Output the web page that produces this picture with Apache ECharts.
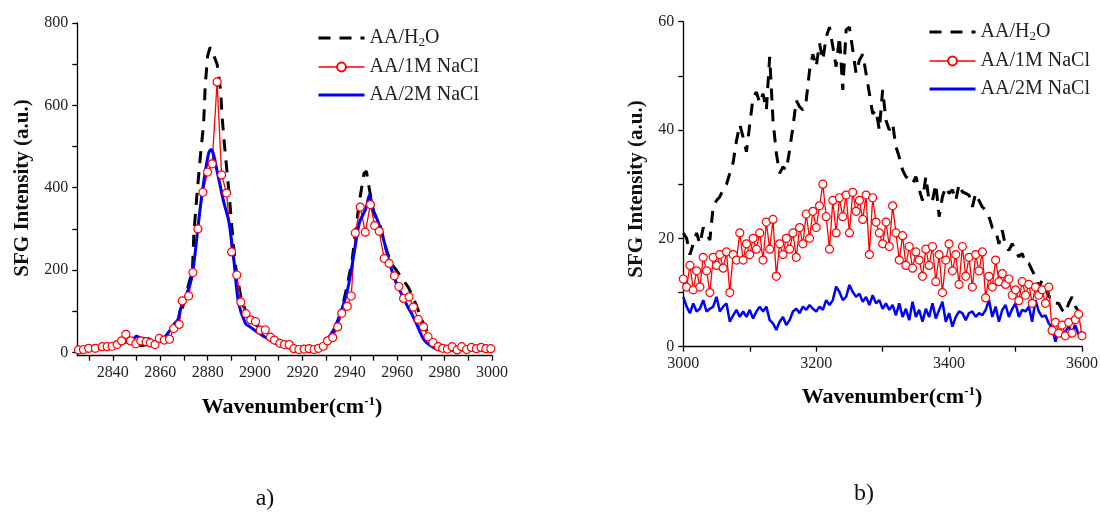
<!DOCTYPE html>
<html><head><meta charset="utf-8">
<script src="https://cdn.jsdelivr.net/npm/echarts@6/dist/echarts.min.js"></script>
<style>html,body{margin:0;padding:0;background:#fff}#c{width:1101px;height:513px}</style>
</head><body><div id="c"></div>
<script>
const FONT = '"Liberation Serif", "DejaVu Serif", serif';

// ---------- Panel a) data ----------
const seriesNames = ['AA/H2O', 'AA/1M NaCl', 'AA/2M NaCl'];
const xTicksA = [2840, 2860, 2880, 2900, 2920, 2940, 2960, 2980, 3000];
const xMinorA = [2830, 2850, 2870, 2890, 2910, 2930, 2950, 2970, 2990];
const yTicksA = [0, 200, 400, 600, 800];
const yMinorA = [100, 300, 500, 700];

const redXA = [2825.5, 2827.6, 2829.8, 2832.6, 2835.5, 2837.6, 2839.7, 2841.8, 2843.7, 2845.5, 2847.5, 2849.7, 2851.8, 2854, 2855.8, 2857.8, 2859.6, 2861.7, 2863.9, 2865.7, 2868, 2869.3, 2872, 2873.8, 2875.9, 2878, 2880, 2881.9, 2884, 2885.9, 2888, 2890.1, 2892.3, 2894, 2896.2, 2898.2, 2900.2, 2902.2, 2904.3, 2906.5, 2908.2, 2910.5, 2912.4, 2914.4, 2916.4, 2918.5, 2920.7, 2922.8, 2924.9, 2926.8, 2928.8, 2930.6, 2932.8, 2934.9, 2936.6, 2938.9, 2940.6, 2942.3, 2944.4, 2946.5, 2948.7, 2950.5, 2952.4, 2954.5, 2956.6, 2958.8, 2960.7, 2962.7, 2965, 2966.8, 2968.9, 2971.1, 2973, 2975.1, 2977.3, 2979.2, 2981.2, 2983.2, 2985.3, 2987.2, 2989.3, 2991.3, 2993.4, 2995.4, 2997.4, 2999.5];
const redYA = [6, 7, 10, 10, 14, 14, 15, 19, 28, 44, 28, 21, 28, 26, 23, 19, 34, 30, 32, 58, 68, 125, 137, 194, 300, 389, 438, 458, 657, 431, 387, 244, 188, 122, 94, 79, 75, 54, 55, 37, 30, 22, 19, 19, 9, 7, 8, 9, 7, 10, 15, 28, 36, 62, 95, 112, 137, 290, 353, 292, 359, 308, 294, 228, 216, 186, 160, 131, 135, 110, 80, 62, 38, 24, 14, 10, 8, 14, 6, 14, 7, 12, 9, 12, 9, 9];

const blackXA = [2825, 2830, 2835, 2840, 2843, 2846, 2849, 2852, 2855, 2858, 2861, 2864, 2866, 2868, 2870, 2872, 2873.6, 2874.2, 2875.6, 2877, 2878.3, 2879, 2880, 2881, 2882, 2883, 2884, 2885.5, 2886, 2887, 2888, 2889, 2890, 2891, 2892, 2894, 2896, 2898, 2900, 2903, 2906, 2909, 2912, 2915, 2918, 2921, 2924, 2927, 2930, 2933, 2936, 2939, 2941, 2943, 2944, 2946, 2947, 2948, 2950, 2953, 2955.4, 2957.5, 2959.6, 2962, 2964.7, 2967, 2969, 2971, 2973, 2975, 2978, 2982, 2988, 2994, 3000];
const blackYA = [8, 10, 12, 15, 20, 26, 22, 16, 20, 22, 30, 42, 58, 85, 120, 165, 200, 290, 390, 480, 555, 650, 720, 740, 735, 715, 700, 635, 580, 510, 450, 390, 320, 255, 200, 135, 100, 80, 68, 55, 42, 28, 18, 12, 8, 7, 9, 14, 25, 48, 90, 165, 225, 320, 365, 435, 440, 405, 340, 304, 250, 215, 200, 180, 158, 130, 100, 70, 46, 25, 14, 12, 12, 13, 15];

const blueXA = [2825, 2830, 2833, 2836, 2840, 2843, 2845, 2847.3, 2849, 2850, 2852, 2855, 2858, 2860, 2862, 2864.3, 2866, 2867.5, 2868.5, 2870, 2871.4, 2873.5, 2875.7, 2877, 2879, 2880.5, 2881.5, 2882.5, 2884, 2885.5, 2886.8, 2889, 2891, 2893, 2896, 2898, 2901, 2904, 2908, 2911, 2915, 2919, 2922, 2925, 2929, 2933, 2936, 2939, 2942, 2944, 2946, 2947, 2948.3, 2950, 2952, 2954, 2956.8, 2959.6, 2962.5, 2964.5, 2966, 2968, 2971.5, 2975.8, 2979, 2983, 2990, 2995, 3000];
const blueYA = [10, 10, 10, 13, 18, 22, 26, 29, 35, 39, 34, 33, 25, 29, 38, 55, 70, 80, 105, 125, 146, 187, 292, 357, 438, 485, 493, 480, 440, 399, 365, 316, 228, 122, 70, 62, 49, 38, 24, 17, 10, 5, 5, 7, 22, 53, 95, 151, 248, 314, 340, 353, 382, 345, 316, 280, 216, 168, 134, 110, 95, 71, 29, 10, 5, 5, 7, 5, 5];

// ---------- Panel b) data ----------
const wavenumberB = [3000, 3005, 3010, 3015, 3020, 3025, 3030, 3035, 3040, 3045, 3050, 3055, 3060, 3065, 3070, 3075, 3080, 3085, 3090, 3095, 3100, 3105, 3110, 3115, 3120, 3125, 3130, 3135, 3140, 3145, 3150, 3155, 3160, 3165, 3170, 3175, 3180, 3185, 3190, 3195, 3200, 3205, 3210, 3215, 3220, 3225, 3230, 3235, 3240, 3245, 3250, 3255, 3260, 3265, 3270, 3275, 3280, 3285, 3290, 3295, 3300, 3305, 3310, 3315, 3320, 3325, 3330, 3335, 3340, 3345, 3350, 3355, 3360, 3365, 3370, 3375, 3380, 3385, 3390, 3395, 3400, 3405, 3410, 3415, 3420, 3425, 3430, 3435, 3440, 3445, 3450, 3455, 3460, 3465, 3470, 3475, 3480, 3485, 3490, 3495, 3500, 3505, 3510, 3515, 3520, 3525, 3530, 3535, 3540, 3545, 3550, 3555, 3560, 3565, 3570, 3575, 3580, 3585, 3590, 3595, 3600];
const blackB = [21, 20, 17, 19, 21, 19, 22, 21, 19.7, 26, 27, 27.7, 29, 30, 32, 34, 38, 41, 38.7, 36, 41, 46, 47, 45, 46.7, 43.7, 53.5, 41.8, 35.7, 32, 33.2, 32.6, 36.3, 40.6, 45.5, 44.3, 43.7, 45.5, 51, 54, 51.7, 56, 52.9, 57.2, 59, 55.4, 51.7, 57.2, 47.4, 58.5, 59, 54.8, 50.5, 52.9, 54, 50.5, 46.8, 43, 43.7, 40, 47.4, 41.8, 40, 41.2, 36.9, 35, 32.6, 31.4, 30.8, 30.1, 31.4, 29, 27, 31.4, 26.8, 27, 30, 24, 27.7, 29.5, 28.3, 29, 27, 30, 28.6, 28.3, 28, 25.8, 28.3, 27, 25.8, 25.2, 24, 22, 21.5, 19, 21.5, 18.5, 17.8, 19, 17.8, 16.6, 17.2, 15.4, 15.4, 14.1, 12.9, 11, 12.3, 11, 9.2, 9.2, 8, 8, 6.8, 6.2, 8, 9.2, 7.4, 6.5, 5.5];
const redB = [12.5, 11, 15, 10.5, 14, 11, 16.5, 14, 10, 16.5, 15, 17, 14.5, 17.5, 10, 17, 16, 21, 16, 19, 17, 20, 18, 21, 16, 23, 18, 23.5, 13, 19, 17, 20, 18, 21, 16.5, 22, 19, 24.5, 20, 25, 22, 26, 30, 24, 18, 27, 21, 27.5, 24, 28, 21, 28.5, 25, 27, 23.5, 28, 17, 27.5, 23, 21, 19, 23, 18.5, 26, 21, 16, 20.5, 15, 18.5, 14.5, 17.5, 16, 13, 18, 15, 18.5, 12, 17, 10, 16, 19, 14, 17, 11.5, 18.5, 13, 16.5, 11, 17, 14, 17.5, 9, 13, 11, 16, 12, 13.5, 11.5, 12.5, 9.5, 10.5, 8.5, 12, 9.5, 11.5, 8, 11, 9.5, 10.5, 8, 11, 3, 4.5, 2.5, 4, 2, 4.5, 2.5, 5, 6, 2];
const blueB = [9.2, 7.4, 6.2, 8, 6.5, 7, 8.6, 6.5, 7, 7.4, 9.2, 6.5, 7.4, 8, 4.6, 5.8, 6.8, 5.5, 6.5, 5.5, 6.8, 5.2, 6.5, 7.4, 6.5, 7.4, 4.9, 4.3, 3.1, 4.6, 5.5, 4, 4.9, 6.5, 7, 6.2, 7.4, 6.8, 7.7, 7, 6.5, 7.4, 6.8, 8.6, 7.7, 8.6, 11.1, 10.1, 8.6, 9.2, 11.4, 10.1, 9.2, 9.8, 8.3, 9.2, 7.7, 9.5, 8, 8.6, 7, 8, 6.8, 7.7, 5.8, 8, 5.5, 7, 4.9, 8.3, 5.5, 6.8, 4.6, 7, 5.5, 8, 5.2, 6.8, 8.3, 4.6, 6.2, 3.7, 5.5, 6.5, 6.2, 4.9, 6.2, 6.5, 5.5, 6.2, 5.8, 6.8, 8.6, 5.5, 7.4, 4.6, 6.8, 7.7, 5.5, 7, 8, 5.5, 6.8, 6.5, 7.4, 4.6, 8.6, 6.5, 5.5, 5.8, 4.3, 3.4, 0.9, 3.1, 1.8, 2.8, 3.7, 2.2, 4, 2.2, 2.8];

function pairs(xs, ys) { return xs.map(function (x, i) { return [x, ys[i]]; }); }
function plain(v) { return String(v); }

const AX = { color: '#000', width: 1.3 };
const LBL = { fontFamily: FONT, fontSize: 16, color: '#222', formatter: plain };

function mainAxis(extra) {
  return Object.assign({
    type: 'value',
    axisLine: { show: true, onZero: false, lineStyle: AX },
    axisTick: { show: true, inside: false, length: 5, lineStyle: AX },
    axisLabel: Object.assign({ show: true }, LBL),
    splitLine: { show: false },
    minorSplitLine: { show: false }
  }, extra);
}
function minorAxis(extra) {
  return Object.assign({
    type: 'value',
    axisLine: { show: false, onZero: false },
    axisTick: { show: true, inside: false, length: 5, lineStyle: AX },
    axisLabel: { show: false },
    splitLine: { show: false }
  }, extra);
}

const richLegend = {
  n: { fontFamily: FONT, fontSize: 20, color: '#222' },
  s: { fontFamily: FONT, fontSize: 13, color: '#222', padding: [9, 0, 0, 0] }
};
function legendFmt(name) {
  if (name === 'AA/H2O') return '{n|AA/H}{s|2}{n|O}';
  return '{n|' + name + '}';
}
function legendAt(left, top) {
  return {
    orient: 'vertical', left: left, top: top, padding: 0, itemWidth: 46, itemHeight: 11, itemGap: 8,
    data: [
      { name: seriesNames[0], itemStyle: { opacity: 0 }, lineStyle: { width: 3 } },
      { name: seriesNames[1], lineStyle: { width: 1.5 } },
      { name: seriesNames[2], itemStyle: { opacity: 0 }, lineStyle: { width: 3 } }
    ],
    formatter: legendFmt, selectedMode: false,
    textStyle: { fontFamily: FONT, fontSize: 20, color: '#222', rich: richLegend }
  };
}

const titleRich = {
  a: { fontFamily: FONT, fontSize: 22, fontWeight: 'bold', color: '#111' },
  b: { fontFamily: FONT, fontSize: 13, fontWeight: 'bold', color: '#111', padding: [0, 0, 10, 0] }
};
function xTitle(x, y) {
  return { type: 'text', x: x, y: y, style: { text: '{a|Wavenumber(cm}{b|-1}{a|)}', rich: titleRich, align: 'center', verticalAlign: 'middle' } };
}
function yTitle(x, y) {
  return { type: 'text', x: x, y: y, rotation: Math.PI / 2, style: { text: 'SFG Intensity (a.u.)', fontFamily: FONT, fontSize: 21, fontWeight: 'bold', fill: '#111', align: 'center', verticalAlign: 'middle' } };
}

const redStyle = {
  type: 'line', symbol: 'circle', showSymbol: true, showAllSymbol: true,
  lineStyle: { color: '#ff0000', width: 1.3 },
  itemStyle: { color: '#ffffff', borderColor: '#ff0000', borderWidth: 1.2 },
  emphasis: { disabled: true }
};

const option = {
  animation: false,
  backgroundColor: '#ffffff',
  grid: [
    { left: 77.3, top: 23, width: 414.7, height: 332.7 },
    { left: 683.3, top: 21.7, width: 400.7, height: 325 }
  ],
  xAxis: [
    mainAxis({ gridIndex: 0, position: 'bottom', min: 2825, max: 3000,
      axisTick: { show: true, length: 5, lineStyle: AX, customValues: xTicksA },
      axisLabel: Object.assign({ customValues: xTicksA, margin: 9 }, LBL) }),
    minorAxis({ gridIndex: 0, position: 'bottom', min: 2825, max: 3000,
      axisTick: { show: true, length: 5, lineStyle: AX, customValues: xMinorA } }),
    mainAxis({ gridIndex: 1, position: 'bottom', min: 3000, max: 3600, interval: 200,
      axisLabel: Object.assign({ margin: 9 }, LBL),
      minorTick: { show: true, splitNumber: 2, length: 5, lineStyle: AX } })
  ],
  yAxis: [
    mainAxis({ gridIndex: 0, position: 'left', min: -8, max: 800,
      axisTick: { show: true, length: 5, lineStyle: AX, customValues: yTicksA },
      axisLabel: Object.assign({ customValues: yTicksA, margin: 9 }, LBL) }),
    minorAxis({ gridIndex: 0, position: 'left', min: -8, max: 800,
      axisTick: { show: true, length: 5, lineStyle: AX, customValues: yMinorA } }),
    mainAxis({ gridIndex: 1, position: 'left', min: 0, max: 60, interval: 20,
      axisLabel: Object.assign({ margin: 9 }, LBL),
      minorTick: { show: true, splitNumber: 2, length: 5, lineStyle: AX } })
  ],
  legend: [legendAt(317, 28), legendAt(928, 22)],
  series: [
    { name: seriesNames[0], type: 'line', xAxisIndex: 0, yAxisIndex: 0, data: pairs(blackXA, blackYA), symbol: 'none',
      lineStyle: { color: '#000', width: 3, type: [12, 9] }, itemStyle: { color: '#000' }, emphasis: { disabled: true } },
    Object.assign({ name: seriesNames[1], xAxisIndex: 0, yAxisIndex: 0, data: pairs(redXA, redYA), symbolSize: 8 }, redStyle),
    { name: seriesNames[2], type: 'line', xAxisIndex: 0, yAxisIndex: 0, data: pairs(blueXA, blueYA), symbol: 'none', smooth: 0.3,
      lineStyle: { color: '#0000ff', width: 3 }, itemStyle: { color: '#0000ff' }, emphasis: { disabled: true } },

    { name: seriesNames[0], type: 'line', xAxisIndex: 2, yAxisIndex: 2, data: pairs(wavenumberB, blackB), symbol: 'none',
      lineStyle: { color: '#000', width: 3, type: [12, 9] }, itemStyle: { color: '#000' }, emphasis: { disabled: true } },
    Object.assign({ name: seriesNames[1], xAxisIndex: 2, yAxisIndex: 2, data: pairs(wavenumberB, redB), symbolSize: 8 }, redStyle),
    { name: seriesNames[2], type: 'line', xAxisIndex: 2, yAxisIndex: 2, data: pairs(wavenumberB, blueB), symbol: 'none',
      lineStyle: { color: '#0000ff', width: 2.5 }, itemStyle: { color: '#0000ff' }, emphasis: { disabled: true } }
  ],
  graphic: [
    yTitle(23, 188),
    xTitle(292, 407),
    yTitle(637, 189),
    xTitle(892, 397),
    { type: 'text', x: 265, y: 499, style: { text: 'a)', fontFamily: FONT, fontSize: 24, fill: '#111', align: 'center', verticalAlign: 'middle' } },
    { type: 'text', x: 864, y: 494, style: { text: 'b)', fontFamily: FONT, fontSize: 24, fill: '#111', align: 'center', verticalAlign: 'middle' } }
  ]
};

const chart = echarts.init(document.getElementById('c'), null, { renderer: 'canvas' });
chart.setOption(option);
</script>
</body></html>
